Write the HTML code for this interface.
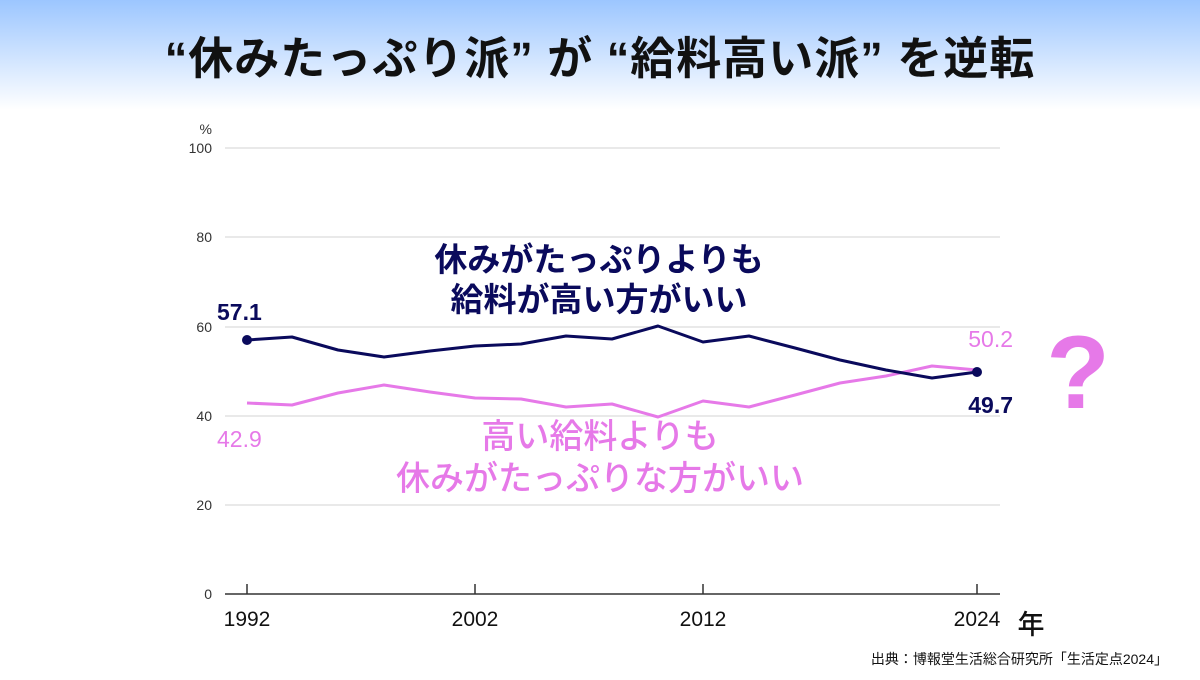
<!DOCTYPE html>
<html><head><meta charset="utf-8"><style>
html,body{margin:0;padding:0}
body{width:1200px;height:675px;overflow:hidden;background:#fff;font-family:"Liberation Sans","Noto Sans CJK JP",sans-serif}
</style></head><body>
<svg width="1200" height="675" viewBox="0 0 1200 675" xmlns="http://www.w3.org/2000/svg" font-family="'Liberation Sans','Noto Sans CJK JP',sans-serif">
<defs><linearGradient id="g" x1="0" y1="0" x2="0" y2="1"><stop offset="0" stop-color="#9cc6ff"/><stop offset="1" stop-color="#ffffff"/></linearGradient></defs>
<rect x="0" y="0" width="1200" height="110" fill="url(#g)"/>
<text x="600" y="74" text-anchor="middle" font-size="45" font-weight="bold" fill="#111" letter-spacing="1">“休みたっぷり派” が “給料高い派” を逆転</text>
<g stroke="#dcdcdc" stroke-width="1.2">
<line x1="225" y1="148" x2="1000" y2="148"/><line x1="225" y1="237" x2="1000" y2="237"/><line x1="225" y1="327" x2="1000" y2="327"/><line x1="225" y1="416" x2="1000" y2="416"/><line x1="225" y1="505" x2="1000" y2="505"/>
</g>
<line x1="225" y1="594" x2="1000" y2="594" stroke="#333" stroke-width="1.5"/>
<g stroke="#333" stroke-width="1.5"><line x1="247" y1="584" x2="247" y2="594"/><line x1="475" y1="584" x2="475" y2="594"/><line x1="703" y1="584" x2="703" y2="594"/><line x1="977" y1="584" x2="977" y2="594"/></g>
<g font-size="14" fill="#333" text-anchor="end">
<text x="212" y="134">%</text>
<text x="212" y="153">100</text><text x="212" y="242">80</text><text x="212" y="332">60</text><text x="212" y="421">40</text><text x="212" y="510">20</text><text x="212" y="599">0</text>
</g>
<g font-size="21" fill="#111" text-anchor="middle" font-weight="500">
<text x="247" y="626">1992</text><text x="475" y="626">2002</text><text x="703" y="626">2012</text><text x="977" y="626">2024</text>
</g>
<text x="1031" y="634" text-anchor="middle" font-size="27" fill="#111" font-weight="500">年</text>
<polyline fill="none" stroke="#e679e8" stroke-width="3" stroke-linejoin="round" points="247,403 292,405 338,393 384,385 430,392 475,398 521,399 566,407 612,404 658,417 703,401 749,407 795,395 840,383 886,376 932,366 977,370"/>
<polyline fill="none" stroke="#0a0a5c" stroke-width="3" stroke-linejoin="round" points="247,340 292,337 338,350 384,357 430,351 475,346 521,344 566,336 612,339 658,326 703,342 749,336 795,348 840,360 886,370 932,378 977,372"/>
<circle cx="247" cy="340" r="5" fill="#0a0a5c"/><circle cx="977" cy="372" r="5" fill="#0a0a5c"/>
<text x="217" y="320" font-size="23" font-weight="bold" fill="#0a0a5c">57.1</text>
<text x="217" y="447" font-size="23" font-weight="500" fill="#e679e8">42.9</text>
<text x="1013" y="347" text-anchor="end" font-size="23" font-weight="500" fill="#e679e8">50.2</text>
<text x="1013" y="413" text-anchor="end" font-size="23" font-weight="bold" fill="#0a0a5c">49.7</text>
<text x="599" y="271" text-anchor="middle" font-size="33" font-weight="bold" fill="#0a0a5c">休みがたっぷりよりも</text>
<text x="599" y="311" text-anchor="middle" font-size="33" font-weight="bold" fill="#0a0a5c">給料が高い方がいい</text>
<text x="600" y="448" text-anchor="middle" font-size="34" font-weight="500" fill="#e679e8">高い給料よりも</text>
<text x="600" y="490" text-anchor="middle" font-size="34" font-weight="500" fill="#e679e8">休みがたっぷりな方がいい</text>
<text x="1078" y="408" text-anchor="middle" font-size="104" font-weight="bold" fill="#e679e8">?</text>
<text x="1168" y="664" text-anchor="end" font-size="14" fill="#111">出典：博報堂生活総合研究所「生活定点2024」</text>
</svg>
</body></html>
